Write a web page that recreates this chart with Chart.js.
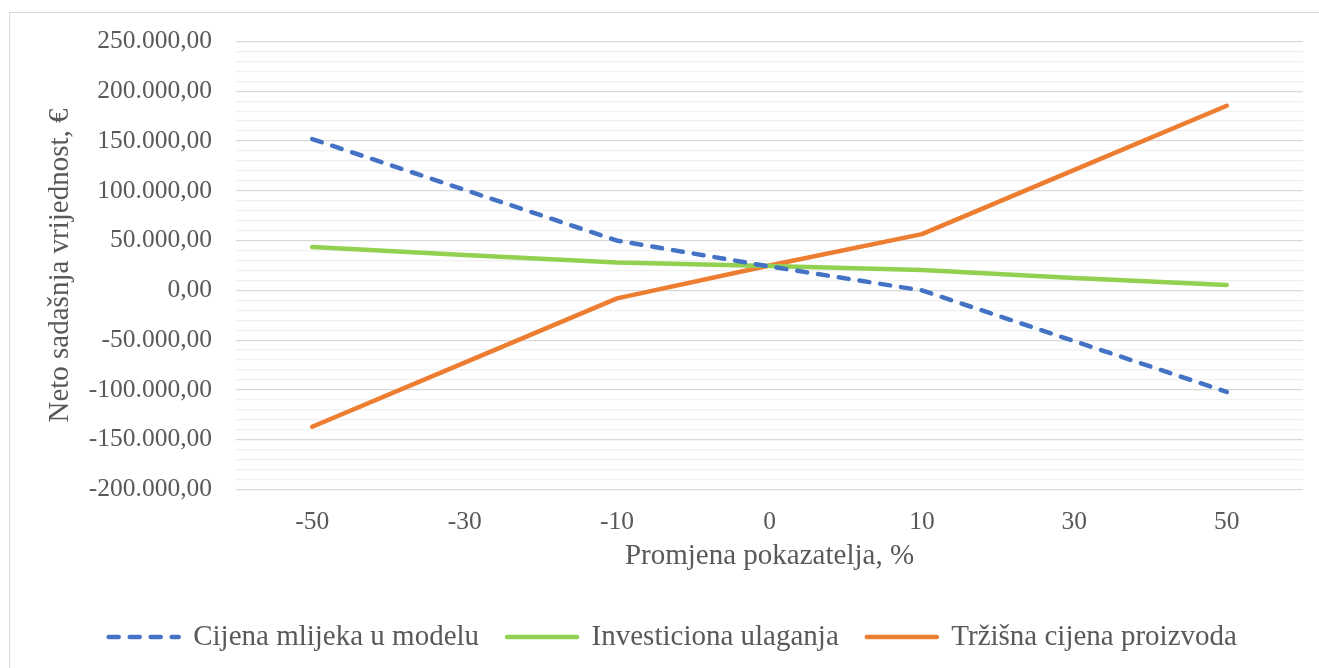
<!DOCTYPE html>
<html>
<head>
<meta charset="utf-8">
<script src="https://cdn.jsdelivr.net/npm/chart.js@4/dist/chart.umd.min.js"></script>
<style>
  html, body { margin: 0; padding: 0; background: #ffffff; overflow: hidden; }
  #wrap { position: absolute; left: 0; top: 0; width: 1319px; height: 668px; }
  #frame { position: absolute; left: 9px; top: 12px; width: 1400px; height: 800px;
           border-left: 1.5px solid #d9d9d9; border-top: 1.5px solid #d9d9d9; pointer-events: none; }
</style>
</head>
<body>
<div id="wrap"><canvas id="c" width="1319" height="668"></canvas></div>
<div id="frame"></div>
<script>
const categories = ['-50', '-30', '-10', '0', '10', '30', '50'];
const cijenaMlijeka = [152000, 101000, 50000, 24000, 0, -51000, -102000];
const investiciona = [43500, 35500, 28000, 24500, 20500, 12500, 5500];
const trzisnaCijena = [-137000, -72500, -8000, 25000, 56500, 121000, 185500];
const seriesNames = ['Cijena mlijeka u modelu', 'Investiciona ulaganja', 'Tržišna cijena proizvoda'];
const yMin = -200000, yMax = 250000, yMajor = 50000, yMinor = 10000;

const FONT = '"Liberation Serif", "Times New Roman", serif';
const TXT = '#595959';
const DASH = [10, 11];

function fmt(v) {
  const neg = v < 0;
  let s = Math.abs(Math.round(v)).toString();
  s = s.replace(/\B(?=(\d{3})+(?!\d))/g, '.');
  return (neg ? '-' : '') + s + ',00';
}

new Chart(document.getElementById('c'), {
  type: 'line',
  data: {
    labels: categories,
    datasets: [
      { label: seriesNames[0], data: cijenaMlijeka, borderColor: '#4472C4', backgroundColor: '#4472C4',
        borderWidth: 4.5, borderDash: DASH, borderCapStyle: 'round', borderJoinStyle: 'round',
        pointRadius: 0, tension: 0, fill: false },
      { label: seriesNames[1], data: investiciona, borderColor: '#92D050', backgroundColor: '#92D050',
        borderWidth: 4.5, borderCapStyle: 'round', borderJoinStyle: 'round',
        pointRadius: 0, tension: 0, fill: false },
      { label: seriesNames[2], data: trzisnaCijena, borderColor: '#ED7D31', backgroundColor: '#ED7D31',
        borderWidth: 4.5, borderCapStyle: 'round', borderJoinStyle: 'round',
        pointRadius: 0, tension: 0, fill: false }
    ]
  },
  options: {
    responsive: false,
    animation: false,
    devicePixelRatio: 1,
    layout: { padding: { left: 42.6, top: 41.5, right: 16, bottom: 6.5 } },
    plugins: {
      tooltip: { enabled: false },
      legend: {
        position: 'bottom',
        labels: {
          usePointStyle: true,
          pointStyle: 'line',
          pointStyleWidth: 70,
          boxHeight: 29,
          padding: 28,
          color: TXT,
          font: { family: FONT, size: 29 },
          generateLabels: (chart) => chart.data.datasets.map((ds, i) => ({
            text: ds.label,
            fillStyle: ds.borderColor,
            strokeStyle: ds.borderColor,
            fontColor: TXT,
            lineWidth: 4.5,
            lineDash: ds.borderDash || [],
            lineCap: 'round',
            pointStyle: 'line',
            hidden: false,
            datasetIndex: i
          }))
        }
      }
    },
    scales: {
      x: {
        type: 'category',
        offset: true,
        grid: { display: false, drawTicks: false },
        border: { display: false },
        ticks: { color: TXT, font: { family: FONT, size: 25.5 }, padding: 17, maxRotation: 0 },
        title: { display: true, text: 'Promjena pokazatelja, %', color: TXT,
                 font: { family: FONT, size: 29 }, padding: { top: 4, bottom: 21 } },
        afterFit: (scale) => { scale.height = 105; }
      },
      y: {
        min: yMin, max: yMax,
        grid: {
          drawTicks: false,
          lineWidth: 1.3,
          color: (ctx) => (ctx.tick && Math.round(ctx.tick.value) % yMajor === 0) ? '#d9d9d9' : '#f0f0f0'
        },
        border: { display: false },
        ticks: {
          stepSize: yMinor,
          autoSkip: false,
          padding: 24,
          color: TXT,
          font: { family: FONT, size: 25.5 },
          callback: (v) => (Math.round(v) % yMajor === 0) ? fmt(v) : ''
        },
        title: { display: true, text: 'Neto sadašnja vrijednost, €', color: TXT,
                 font: { family: FONT, size: 29 }, padding: { top: 0, bottom: 0 } },
        afterFit: (scale) => { scale.width = 236 - 42.6; }
      }
    }
  }
});
</script>
</body>
</html>
